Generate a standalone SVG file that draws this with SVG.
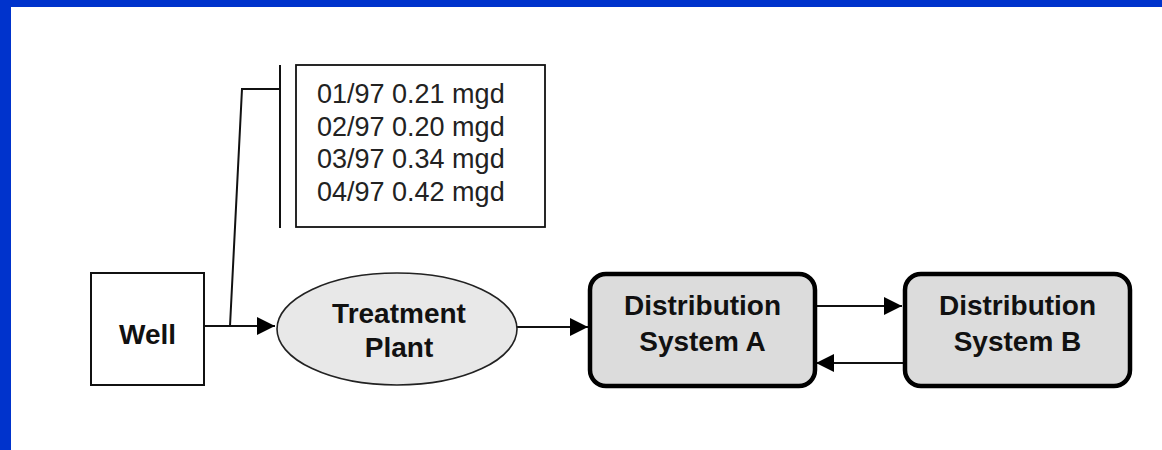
<svg xmlns="http://www.w3.org/2000/svg" width="1162" height="450" viewBox="0 0 1162 450">
  <style>
    .lbl { font-family: "Liberation Sans", Arial, sans-serif; font-weight: bold; font-size: 28px; fill: #111; text-anchor: middle; }
    .note { font-family: "Liberation Sans", Arial, sans-serif; font-size: 27px; fill: #222; }
    .edge { stroke: #111; stroke-width: 2; fill: none; }
    .dist { fill: #dcdcdc; stroke: #000; stroke-width: 4.5; }
  </style>
  <defs>
    <marker id="arrow" viewBox="0 0 18 18" refX="18" refY="9" markerWidth="18" markerHeight="18" markerUnits="userSpaceOnUse" orient="auto">
      <path d="M0,0 L18,9 L0,18 Z" fill="#000"/>
    </marker>
  </defs>

  <!-- page frame -->
  <rect x="0" y="0" width="1162" height="450" fill="#fff"/>
  <rect x="0" y="0" width="1162" height="7" fill="#0033cc"/>
  <rect x="0" y="0" width="11" height="450" fill="#0033cc"/>

  <!-- connectors -->
  <g id="connectors">
    <line class="edge" x1="204" y1="326" x2="275" y2="326" marker-end="url(#arrow)"/>
    <line class="edge" x1="517" y1="327" x2="588" y2="327" marker-end="url(#arrow)"/>
    <line class="edge" x1="817" y1="306" x2="902" y2="306" marker-end="url(#arrow)"/>
    <line class="edge" x1="903" y1="363" x2="816" y2="363" marker-end="url(#arrow)"/>
    <!-- annotation leader from the well line to the flow note -->
    <polyline class="edge" points="230,326 242,89 280,89"/>
    <line class="edge" x1="280" y1="65" x2="280" y2="228"/>
  </g>

  <g id="flow-note">
    <rect x="296" y="65" width="249" height="162" fill="#fff" stroke="#111" stroke-width="1.8"/>
    <text class="note" x="317" y="103">01/97 0.21 mgd</text>
    <text class="note" x="317" y="136">02/97 0.20 mgd</text>
    <text class="note" x="317" y="168">03/97 0.34 mgd</text>
    <text class="note" x="317" y="201">04/97 0.42 mgd</text>
  </g>

  <g id="well">
    <rect x="91" y="273" width="113" height="112" fill="#fff" stroke="#111" stroke-width="2"/>
    <text class="lbl" x="147.5" y="344">Well</text>
  </g>

  <g id="treatment-plant">
    <ellipse cx="397" cy="329" rx="120" ry="56" fill="#e8e8e8" stroke="#222" stroke-width="1.6"/>
    <text class="lbl" x="399" y="323">Treatment</text>
    <text class="lbl" x="399" y="357">Plant</text>
  </g>

  <g id="distribution-a">
    <rect class="dist" x="590" y="274" width="225" height="112" rx="16" ry="16"/>
    <text class="lbl" x="702.5" y="315">Distribution</text>
    <text class="lbl" x="702.5" y="351">System A</text>
  </g>

  <g id="distribution-b">
    <rect class="dist" x="905" y="274" width="225" height="112" rx="16" ry="16"/>
    <text class="lbl" x="1017.5" y="315">Distribution</text>
    <text class="lbl" x="1017.5" y="351">System B</text>
  </g>
</svg>
